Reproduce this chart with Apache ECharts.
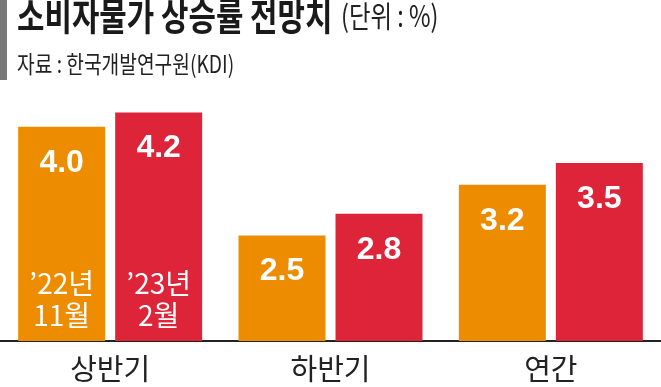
<!DOCTYPE html>
<html>
<head>
<meta charset="utf-8">
<script src="https://cdn.jsdelivr.net/npm/echarts@6/dist/echarts.min.js"></script>
<style>
html,body{margin:0;padding:0;background:#fff;}
#c{width:661px;height:387px;}
</style>
</head>
<body>
<div id="c"></div>
<script>
const categories = ['상반기', '하반기', '연간'];
const seriesNames = ['’22년 11월', '’23년 2월'];
const nov22 = [4.0, 2.5, 3.2];
const feb23 = [4.2, 2.8, 3.5];
const annotations = ['’22년\n11월', '’23년\n2월'];
const titleText = '소비자물가 상승률 전망치';
const unitText = '(단위 : %)';
const sourceText = '자료 : 한국개발연구원(KDI)';

const ORANGE = '#EE8C00';
const RED = '#DD2438';
const noteLevel = 1.62;

const chart = echarts.init(document.getElementById('c'), null, {renderer: 'canvas'});

function makeSeries(name, values, color, note) {
  return {
    name: name,
    type: 'bar',
    data: values,
    barWidth: 87,
    barGap: '11.5%',
    itemStyle: {color: color},
    label: {
      show: true,
      position: 'insideTop',
      distance: 20,
      color: '#fff',
      fontFamily: 'Liberation Sans',
      fontWeight: 'bold',
      fontSize: 32,
      formatter: p => p.value.toFixed(1)
    },
    markPoint: {
      symbol: 'rect',
      symbolSize: 1,
      itemStyle: {color: 'rgba(0,0,0,0)'},
      silent: true,
      label: {
        show: true,
        position: 'inside',
        color: '#fff',
        fontFamily: 'Noto Sans CJK KR',
        fontSize: 28,
        lineHeight: 32,
        align: 'center',
        formatter: () => note
      },
      data: [{coord: [categories[0], noteLevel]}]
    }
  };
}

const option = {
  animation: false,
  backgroundColor: '#fff',
  grid: {left: 0, right: 0, top: 90.7, bottom: 46, containLabel: false},
  xAxis: {
    type: 'category',
    data: categories,
    axisLine: {show: true, lineStyle: {color: '#222', width: 2}},
    axisTick: {show: false},
    axisLabel: {
      color: '#222',
      fontFamily: 'Noto Sans CJK KR',
      fontSize: 29,
      margin: 13
    }
  },
  yAxis: {
    type: 'value',
    min: 1.04,
    max: 4.5,
    show: false,
    splitLine: {show: false}
  },
  series: [
    makeSeries(seriesNames[0], nov22, ORANGE, annotations[0]),
    makeSeries(seriesNames[1], feb23, RED, annotations[1])
  ],
  graphic: [
    {type: 'rect', left: 0, top: 0, shape: {width: 7, height: 80}, style: {fill: '#787878'}},
    {type: 'text', x: 17, y: -3, scaleX: 0.785,
      style: {text: titleText, fontFamily: 'Noto Sans CJK KR', fontWeight: 'bold', fontSize: 38, fill: '#1a1a1a', verticalAlign: 'top'}},
    {type: 'text', x: 341, y: 1, scaleX: 0.78,
      style: {text: unitText, fontFamily: 'Noto Sans CJK KR', fontSize: 30, fill: '#222', verticalAlign: 'top'}},
    {type: 'text', x: 17, y: 52, scaleX: 0.8,
      style: {text: sourceText, fontFamily: 'Noto Sans CJK KR', fontSize: 24, fill: '#222', verticalAlign: 'top'}}
  ]
};
chart.setOption(option);
</script>
</body>
</html>
